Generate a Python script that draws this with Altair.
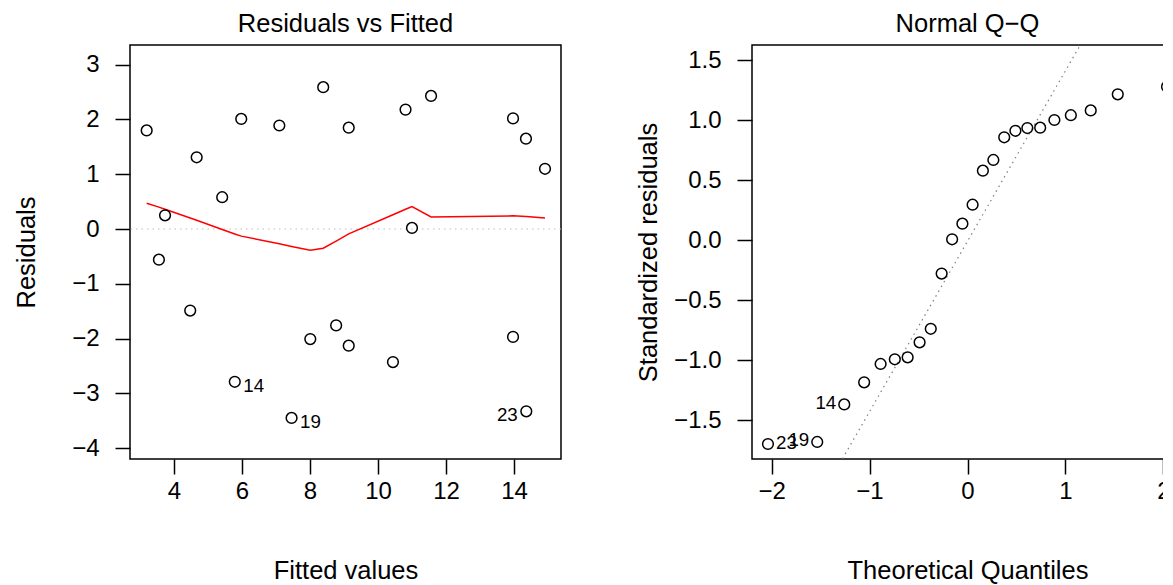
import altair as alt
import pandas as pd

FONT = "Liberation Sans"

# ---- Residuals vs Fitted data ----
fitted = [3.20, 3.56, 3.74, 4.48, 4.67, 5.42, 5.79, 5.98, 7.10, 7.46, 8.01, 8.39,
          8.77, 9.14, 9.14, 10.44, 10.81, 11.00, 11.56, 13.97, 13.97, 14.35, 14.36, 14.91]
residuals = [1.80, -0.56, 0.25, -1.49, 1.31, 0.58, -2.79, 2.01, 1.89, -3.45, -2.01, 2.59,
             -1.76, 1.85, -2.13, -2.43, 2.18, 0.02, 2.43, 2.02, -1.97, 1.65, -3.33, 1.10]
resid_labels = ["", "", "", "", "", "", "14", "", "", "19", "", "",
                "", "", "", "", "", "", "", "", "", "", "23", ""]
resid_label_side = ["", "", "", "", "", "", "right", "", "", "right", "", "",
                    "", "", "", "", "", "", "", "", "", "", "left", ""]

smooth_x = [3.20, 3.56, 3.74, 4.48, 4.67, 5.42, 5.79, 5.98, 7.10, 7.46, 8.01, 8.39,
            8.77, 9.14, 10.44, 10.81, 11.00, 11.56, 13.97, 14.35, 14.36, 14.91]
smooth_y = [0.47, 0.40, 0.36, 0.20, 0.16, -0.01, -0.09, -0.13, -0.27, -0.32, -0.39, -0.35,
            -0.22, -0.09, 0.26, 0.36, 0.41, 0.22, 0.24, 0.23, 0.23, 0.20]

# ---- Normal Q-Q data ----
theoretical = [-2.037, -1.534, -1.258, -1.055, -0.887, -0.742, -0.611, -0.489, -0.375, -0.264,
               -0.157, -0.052, 0.052, 0.157, 0.264, 0.375, 0.489, 0.611, 0.742, 0.887,
               1.055, 1.258, 1.534, 2.037]
std_resid = [-1.70, -1.683, -1.37, -1.186, -1.033, -0.994, -0.978, -0.853, -0.74, -0.28,
             0.006, 0.136, 0.294, 0.578, 0.667, 0.856, 0.91, 0.933, 0.936, 1.0,
             1.04, 1.08, 1.214, 1.278]
qq_labels = ["23", "19", "14", "", "", "", "", "", "", "", "", "", "", "", "", "", "", "",
             "", "", "", "", "", ""]
qq_label_side = ["right", "left", "left", "", "", "", "", "", "", "", "", "", "", "", "", "",
                 "", "", "", "", "", "", "", ""]
qq_intercept = -0.01
qq_slope = 1.42

left_x_ticks = [4, 6, 8, 10, 12, 14]
left_y_ticks = [-4, -3, -2, -1, 0, 1, 2, 3]
right_x_ticks = [-2, -1, 0, 1, 2]
right_y_ticks = [-1.5, -1.0, -0.5, 0.0, 0.5, 1.0, 1.5]

LX = [2.71, 15.38]
LY = [-4.20, 3.36]
RX = [-2.2, 2.2]
RY = [-1.825, 1.625]

W, H = 431, 414

common_axis = dict(grid=False, tickSize=15, tickWidth=1.5, tickColor="black",
                   labelFont=FONT, labelFontSize=24, labelColor="black",
                   titleFont=FONT, titleFontSize=25.5, titleColor="black",
                   titleFontWeight="normal", domain=False)

title_style = dict(font=FONT, fontSize=25.5, fontWeight="normal", color="black", offset=7.5)
box = alt.ViewBackground(stroke="black", strokeWidth=1.5)

# ---------------- left panel ----------------
df_res = pd.DataFrame({"fitted": fitted, "resid": residuals,
                       "label": resid_labels, "side": resid_label_side})
df_smooth = pd.DataFrame({"fitted": smooth_x, "resid": smooth_y})
df_zero = pd.DataFrame({"resid": [0.0]})

lx = alt.X("fitted:Q", scale=alt.Scale(domain=LX, nice=False, zero=False),
           axis=alt.Axis(values=left_x_ticks, title="Fitted values",
                         labelPadding=5, titlePadding=55, **common_axis))
ly = alt.Y("resid:Q", scale=alt.Scale(domain=LY, nice=False, zero=False),
           axis=alt.Axis(values=left_y_ticks, title="Residuals",
                         labelPadding=16, titlePadding=32, **common_axis))

zero_line = alt.Chart(df_zero).mark_rule(color="#BEBEBE", strokeWidth=1.2,
                                         strokeDash=[1.5, 4]).encode(y=ly)
smooth = alt.Chart(df_smooth).mark_line(color="#FF0000", strokeWidth=1.5).encode(x=lx, y=ly)
pts_l = alt.Chart(df_res).mark_point(shape="circle", filled=False, color="black",
                                     size=115, strokeWidth=1.5, opacity=1).encode(x=lx, y=ly)
lab_l_r = alt.Chart(df_res).transform_filter(alt.datum.side == "right").mark_text(
    align="left", baseline="middle", dx=8.5, dy=4, font=FONT, fontSize=18.75, color="black"
).encode(x=lx, y=ly, text="label:N")
lab_l_l = alt.Chart(df_res).transform_filter(alt.datum.side == "left").mark_text(
    align="right", baseline="middle", dx=-8.5, dy=4, font=FONT, fontSize=18.75, color="black"
).encode(x=lx, y=ly, text="label:N")

left = alt.layer(zero_line, smooth, pts_l, lab_l_r, lab_l_l).properties(
    width=W, height=H,
    title=alt.TitleParams("Residuals vs Fitted", **title_style),
    view=box,
)

# ---------------- right panel ----------------
df_qq = pd.DataFrame({"theo": theoretical, "std": std_resid,
                      "label": qq_labels, "side": qq_label_side})
df_qqline = pd.DataFrame({"theo": RX, "std": [qq_intercept + qq_slope * t for t in RX]})

rx = alt.X("theo:Q", scale=alt.Scale(domain=RX, nice=False, zero=False),
           axis=alt.Axis(values=right_x_ticks, title="Theoretical Quantiles", format="d",
                         labelPadding=5, titlePadding=55, **common_axis))
ry = alt.Y("std:Q", scale=alt.Scale(domain=RY, nice=False, zero=False),
           axis=alt.Axis(values=right_y_ticks, title="Standardized residuals", format=".1f",
                         labelPadding=16, titlePadding=12, **common_axis))

qq_line = alt.Chart(df_qqline).mark_line(color="#7F7F7F", strokeWidth=1.2,
                                         strokeDash=[1.5, 4], clip=True).encode(x=rx, y=ry)
pts_r = alt.Chart(df_qq).mark_point(shape="circle", filled=False, color="black",
                                    size=115, strokeWidth=1.5, opacity=1).encode(x=rx, y=ry)
lab_r_l = alt.Chart(df_qq).transform_filter(alt.datum.side == "left").mark_text(
    align="right", baseline="middle", dx=-8, dy=-1.5, font=FONT, fontSize=18.75, color="black"
).encode(x=rx, y=ry, text="label:N")
lab_r_r = alt.Chart(df_qq).transform_filter(alt.datum.side == "right").mark_text(
    align="left", baseline="middle", dx=8, dy=-1.5, font=FONT, fontSize=18.75, color="black"
).encode(x=rx, y=ry, text="label:N")

right = alt.layer(qq_line, pts_r, lab_r_l, lab_r_r).properties(
    width=W, height=H,
    title=alt.TitleParams("Normal Q\u2212Q", **title_style),
    view=box,
)

# the reference figure is cropped at its right edge: a negative right padding
# trims the drawing the same way so that the page does not rescale it
chart = alt.hconcat(left, right, spacing=72).properties(
    padding={"left": 5, "top": 3, "right": -21, "bottom": 0},
    background="white",
)

chart.save("out.html", embed_options={"renderer": "svg", "actions": False})
